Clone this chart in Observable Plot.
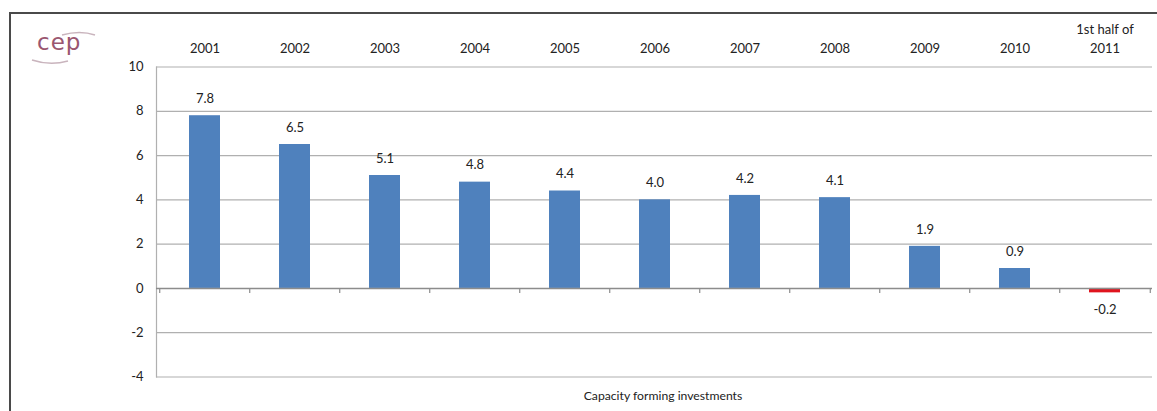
<!DOCTYPE html>
<html>
<head>
<meta charset="utf-8">
<script src="https://cdn.jsdelivr.net/npm/d3@7"></script>
<script src="https://cdn.jsdelivr.net/npm/@observablehq/plot@0.6"></script>
<style>
  html, body { margin: 0; padding: 0; background: #fff; }
  #wrap { position: relative; width: 1157px; height: 411px; overflow: hidden; font-family: Lato, "Open Sans", sans-serif; }
  #frame { position: absolute; left: 9px; top: 12px; right: -5px; bottom: -5px; border-left: 2px solid #4a4a4a; border-top: 2px solid #4a4a4a; }
  #chart { position: absolute; left: 0; top: 0; }
  #caption { position: absolute; top: 388px; left: 563px; width: 200px; text-align: center; font-size: 12.2px; color: #222; }
  #logo { position: absolute; left: 30px; top: 28px; width: 70px; height: 40px; }
  #logo .t { position: absolute; left: 7px; top: 1px; font-size: 23px; color: #9a5670; letter-spacing: 1px; font-family: "DejaVu Sans", sans-serif; }
</style>
</head>
<body>
<div id="wrap">
  <div id="frame"></div>
  <div id="chart"></div>
  <div id="logo">
    <svg width="70" height="40" style="position:absolute;left:0;top:0">
      <path d="M32,7 Q50,2 65,7" fill="none" stroke="#c9b4bd" stroke-width="1.5"/>
      <path d="M2,32 Q20,38 38,33" fill="none" stroke="#c9b4bd" stroke-width="1.5"/>
    </svg>
    <div class="t">cep</div>
  </div>
  <div id="caption">Capacity forming investments</div>
</div>
<script>
const categories = ["2001", "2002", "2003", "2004", "2005", "2006", "2007", "2008", "2009", "2010", "1st half of\n2011"];
const values = [7.8, 6.5, 5.1, 4.8, 4.4, 4.0, 4.2, 4.1, 1.9, 0.9, -0.2];
const labels = ["7.8", "6.5", "5.1", "4.8", "4.4", "4.0", "4.2", "4.1", "1.9", "0.9", "-0.2"];
const yTicks = [-4, -2, 0, 2, 4, 6, 8, 10];
const gridTicks = [-4, -2, 2, 4, 6, 8, 10];

const data = categories.map((c, i) => ({cat: c, value: values[i], label: labels[i]}));

const W = 1157, H = 411;
const mL = 156, mR = 5, mT = 66.5, mB = 34.5;
const step = (W - mL - mR) / categories.length;

const chart = Plot.plot({
  width: W,
  height: H,
  marginLeft: mL,
  marginRight: mR,
  marginTop: mT,
  marginBottom: mB,
  style: {fontFamily: "Lato, 'Open Sans', sans-serif", fontSize: "13px", color: "#222", background: "transparent"},
  x: {domain: categories, paddingInner: 0.66, paddingOuter: 0.33, axis: null, label: null},
  y: {domain: [-4, 10], axis: null, label: null},
  marks: [
    Plot.ruleY(gridTicks, {stroke: "#b0b0b0", strokeWidth: 1.2}),
    Plot.frame({anchor: "left", stroke: "#b0b0b0", strokeWidth: 1.2}),
    Plot.barY(data, {x: "cat", y: "value", fill: d => d.value < 0 ? "#e0141e" : "#4f81bd"}),
    Plot.ruleY([0], {stroke: "#8c8c8c", strokeWidth: 1.5}),
    Plot.ruleX(categories, {x: d => d, y1: 0, y2: 0, dx: -step / 2, insetBottom: -5, stroke: "#8c8c8c", strokeWidth: 1.2}),
    Plot.ruleX(categories.slice(-1), {x: d => d, y1: 0, y2: 0, dx: step / 2, insetBottom: -5, stroke: "#8c8c8c", strokeWidth: 1.2}),
    Plot.text(data, {x: "cat", y: "value", text: "label", fill: "#222", fontSize: 13,
      filter: d => d.value >= 0, dy: -17}),
    Plot.text(data, {x: "cat", y: "value", text: "label", fill: "#222", fontSize: 13,
      filter: d => d.value < 0, dy: 17}),
    Plot.axisY(yTicks, {anchor: "left", tickSize: 0, tickPadding: 13, fontSize: 13, fill: "#222",
      tickFormat: d => String(d), label: null}),
    Plot.axisX({anchor: "top", tickSize: 0, tickPadding: 14, fontSize: 13, fill: "#222", lineHeight: 1.45, label: null})
  ]
});
document.getElementById("chart").appendChild(chart);
</script>
</body>
</html>
